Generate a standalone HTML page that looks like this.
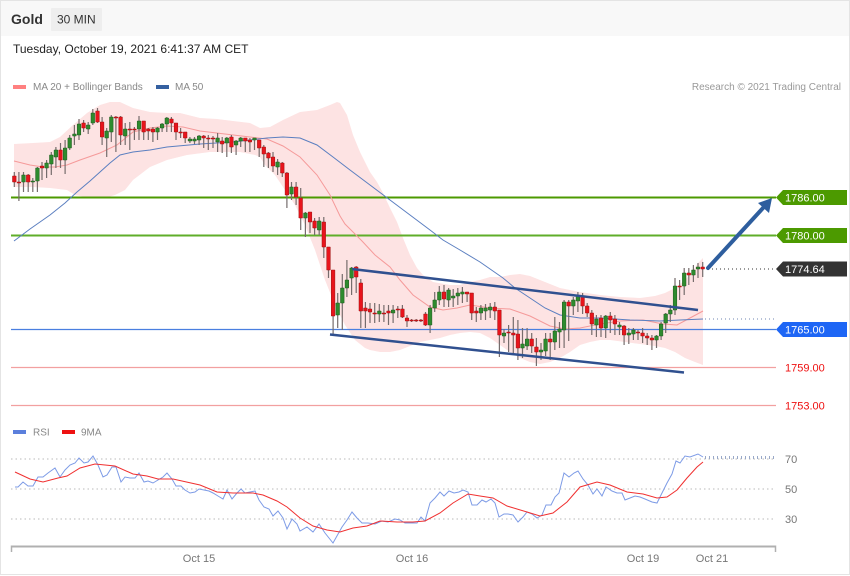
<!DOCTYPE html>
<html><head><meta charset="utf-8"><style>
html,body{margin:0;padding:0;background:#fff;}
svg{display:block;font-family:"Liberation Sans",Arial,sans-serif;}
</style></head><body>
<svg width="850" height="576" viewBox="0 0 850 576" xmlns="http://www.w3.org/2000/svg">
<rect x="0" y="0" width="850" height="576" fill="#fff"/>
<rect x="0" y="0" width="850" height="36" fill="#f8f8f8"/>
<rect x="0.5" y="0.5" width="849" height="574" fill="none" stroke="#e4e4e4"/>
<text x="11" y="24" font-size="14" font-weight="bold" fill="#333">Gold</text>
<rect x="51" y="8" width="51" height="23" fill="#eeeeee" rx="1"/>
<text x="57" y="23.5" font-size="12" fill="#333">30 MIN</text>
<text x="13" y="53" font-size="12" fill="#222">Tuesday, October 19, 2021 6:41:37 AM CET</text>
<rect x="13" y="85" width="13" height="4" fill="#ff8080"/>
<text x="33" y="90" font-size="10" fill="#888">MA 20 + Bollinger Bands</text>
<rect x="156" y="85" width="13" height="4" fill="#3560a0"/>
<text x="175" y="90" font-size="10" fill="#888">MA 50</text>
<text x="841" y="90" font-size="10" fill="#999" text-anchor="end">Research © 2021 Trading Central</text>

<!-- Bollinger band -->
<polygon fill="#fde3e3" points="14,144 33,143 50,142 60,137 73,125 87,113 100,105 110,102 120,102 133,108 150,112 167,113 180,113 200,118 217,119 233,121 250,123 260,128 270,127 283,120 300,112 317,110 330,105 337,102 340,103 347,115 353,135 360,152 370,172 377,182 383,193 390,208 397,222 403,238 410,255 417,268 423,275 433,282 450,285 460,285 470,282 480,280 490,277 500,277 510,275 520,274 530,276 545,282 560,288 580,292 600,295 620,297 640,298 655,296 665,293 675,288 685,280 692,272 698,263 703,258 703,365 695,362 685,358 675,352 665,348 655,346 640,344 625,342 610,340 600,340 590,342 580,345 570,352 560,358 550,362 540,364 530,362 520,358 510,352 500,345 490,338 480,333 470,332 460,333 450,335 440,338 430,340 420,342 410,346 400,350 390,352 380,352 370,350 365,348 355,340 345,325 335,305 325,280 315,250 305,225 295,205 285,190 275,175 265,165 260,157 255,155 240,152 210,152 187,155 167,160 150,167 133,180 125,190 115,195 105,198 90,198 75,195 67,190 50,188 33,187 14,187"/>

<!-- horizontal levels -->
<line x1="11" y1="197.5" x2="776" y2="197.5" stroke="#4c9a00" stroke-width="2"/>
<line x1="11" y1="235.5" x2="776" y2="235.5" stroke="#5fae2a" stroke-width="2"/>
<line x1="11" y1="329.5" x2="776" y2="329.5" stroke="#4a7fe0" stroke-width="1.3"/>
<line x1="11" y1="367.5" x2="776" y2="367.5" stroke="#f2a0a0" stroke-width="1.3"/>
<line x1="11" y1="405.5" x2="776" y2="405.5" stroke="#f2a0a0" stroke-width="1.3"/>
<line x1="708" y1="269" x2="776" y2="269" stroke="#333" stroke-width="1" stroke-dasharray="1 3"/>
<line x1="705" y1="319" x2="776" y2="319" stroke="#6f86b0" stroke-width="1" stroke-dasharray="1 3"/>

<!-- MA lines -->
<polyline fill="none" stroke="#f59a9a" stroke-width="1" points="14,161 30,165 43,167 55,167 67,165 80,160 100,153 117,145 133,132 150,128 167,126 183,127 200,131 225,134 250,137 267,139 283,146 300,157 317,175 330,195 340,216 345,224 355,234 362,241 375,255 390,267 400,280 413,295 430,307 443,310 457,308 470,305 490,308 510,309 530,316 550,326 565,329 580,328 600,324 620,321 643,320 663,324 677,325 690,318 703,311"/>
<polyline fill="none" stroke="#5b7fc0" stroke-width="1" points="14,241 30,229 50,215 65,203 77,192 90,181 100,172 110,163 120,155 133,152 150,150 167,147 200,144 233,142 250,140 267,138 283,137 300,138 317,145 333,157 350,170 370,185 390,200 410,215 430,230 443,240 460,250 480,262 503,278 515,288 530,298 545,308 560,315 580,318 600,318 630,320 660,321 680,320 703,319"/>

<!-- wicks -->
<path fill="none" stroke="#766c6c" stroke-width="1.2" d="M14.3 172V187M18.9 172V201M23.5 172V192M28.2 174V192M32.8 178V192M37.4 167V192M42 162V180M46.6 160V178M51.3 152V175M55.9 147V168M60.5 143V168M65.1 140V174M69.7 135V150M74.4 125V145M79 119V140M83.6 120V132M88.2 122V134M92.8 109V125M97.5 108V123M102.1 117V145M106.7 128V157M111.3 115V142M115.9 116V152M120.6 116V145M125.2 123V145M129.8 122V150M134.4 127V140M139 116V140M143.7 121V140M148.3 128V140M152.9 127V142M157.5 127V140M162.1 123V132M166.8 117V132M171.4 117V132M176 123V140M180.6 128V138M185.2 132V143M189.9 137V143M194.5 137V144M199.1 135V145M203.7 135V148M208.3 135V150M213 136V148M217.6 133V152M222.2 137V153M226.8 137V157M231.4 135V153M236.1 140V155M240.7 137V147M245.3 138V152M249.9 138V152M254.5 138V150M259.2 140V157M263.8 145V167M268.4 152V168M273 152V172M277.6 159V175M282.3 162V177M286.9 172V208M291.5 182V200M296.1 182V205M300.7 188V230M305.4 212V237M310 212V233M314.6 218V235M319.2 217V235M323.8 217V258M328.5 247V278M333.1 270V335M337.7 293V328M342.3 274V330M346.9 260V297M351.6 267V295M356.2 266V293M360.8 279V328M365.4 302V328M370 303V323M374.7 303V323M379.3 304V322M383.9 305V322M388.5 305V325M393.1 305V323M397.8 306V318M402.4 305V318M407 315V327M411.6 319V322M416.2 319V322M420.9 319V322M425.5 312V326M430.1 305V333M434.7 292V312M439.3 286V305M444 285V307M448.6 288V307M453.2 289V307M457.8 288V305M462.4 287V303M467.1 292V302M471.7 293V320M476.3 307V322M480.9 305V320M485.5 304V320M490.2 303V318M494.8 302V320M499.4 310V357M504 329V343M508.6 325V352M513.3 317V353M517.9 320V360M522.5 328V358M527.1 328V350M531.7 333V353M536.4 338V366M541 343V360M545.6 333V356M550.2 333V360M554.8 317V350M559.5 322V348M564.1 300V348M568.7 300V341M573.3 297V315M577.9 292V312M582.6 293V314M587.2 303V317M591.8 310V335M596.4 315V337M601 315V337M605.7 315V338M610.3 312V333M614.9 315V335M619.5 322V335M624.1 325V345M628.8 328V344M633.4 328V340M638 330V340M642.6 328V343M647.2 333V345M651.9 335V350M656.5 335V348M661.1 322V340M665.7 313V333M670.3 305V322M675 278V315M679.6 280V300M684.2 268V295M688.8 268V285M693.4 265V282M698 263V278M702.7 262V277"/>

<!-- green bodies -->
<path fill="#2e8b2e" stroke="#1d5a1d" stroke-width="0.5" d="M21.7 175h3.6v7h-3.6zM31 181h3.6v1h-3.6zM35.6 168h3.6v13h-3.6zM44.8 163h3.6v5h-3.6zM49.5 155h3.6v9h-3.6zM54.1 150h3.6v7h-3.6zM63.3 148h3.6v12h-3.6zM67.9 138h3.6v10h-3.6zM72.6 134h3.6v2h-3.6zM77.2 124h3.6v11h-3.6zM86.4 125h3.6v4h-3.6zM91 113h3.6v10h-3.6zM104.9 131h3.6v7h-3.6zM109.5 117h3.6v15h-3.6zM123.4 129h3.6v7h-3.6zM137.2 121h3.6v8h-3.6zM155.7 128h3.6v4h-3.6zM160.3 124h3.6v4h-3.6zM165 118h3.6v6h-3.6zM188.1 139h3.6v2h-3.6zM192.7 139h3.6v2h-3.6zM197.3 136h3.6v4h-3.6zM215.8 138h3.6v4h-3.6zM225 138h3.6v5h-3.6zM234.3 141h3.6v4h-3.6zM238.9 138h3.6v3h-3.6zM252.7 138h3.6v2h-3.6zM275.8 162h3.6v5h-3.6zM289.7 187h3.6v7h-3.6zM303.6 213h3.6v5h-3.6zM317.4 221h3.6v9h-3.6zM335.9 303h3.6v12h-3.6zM340.5 288h3.6v15h-3.6zM345.1 280h3.6v8h-3.6zM349.8 268h3.6v10h-3.6zM377.5 311h3.6v3h-3.6zM391.3 310h3.6v3h-3.6zM428.3 308h3.6v17h-3.6zM432.9 300h3.6v8h-3.6zM437.5 292h3.6v8h-3.6zM446.8 290h3.6v10h-3.6zM451.4 296h3.6v2h-3.6zM456 293h3.6v3h-3.6zM460.6 292h3.6v2h-3.6zM479.1 308h3.6v5h-3.6zM483.7 308h3.6v3h-3.6zM488.4 307h3.6v3h-3.6zM502.2 333h3.6v3h-3.6zM520.7 344h3.6v4h-3.6zM525.3 339h3.6v7h-3.6zM539.2 350h3.6v2h-3.6zM543.8 339h3.6v12h-3.6zM553 331h3.6v11h-3.6zM557.7 329h3.6v3h-3.6zM562.3 302h3.6v28h-3.6zM571.5 300h3.6v6h-3.6zM576.1 296h3.6v5h-3.6zM594.6 319h3.6v6h-3.6zM603.9 316h3.6v12h-3.6zM617.7 325h3.6v2h-3.6zM627 333h3.6v2h-3.6zM631.6 330h3.6v4h-3.6zM654.7 336h3.6v4h-3.6zM659.3 324h3.6v12h-3.6zM663.9 314h3.6v9h-3.6zM668.5 310h3.6v4h-3.6zM673.2 286h3.6v24h-3.6zM682.4 273h3.6v13h-3.6zM691.6 270h3.6v5h-3.6zM696.2 267h3.6v2h-3.6z"/>

<!-- red bodies -->
<path fill="#e8141c" stroke="#a01010" stroke-width="0.5" d="M12.5 176h3.6v6h-3.6zM17.1 182h3.6v1h-3.6zM26.4 175h3.6v7h-3.6zM40.2 166h3.6v2h-3.6zM58.7 150h3.6v10h-3.6zM81.8 123h3.6v5h-3.6zM95.7 111h3.6v11h-3.6zM100.3 122h3.6v15h-3.6zM114.1 117h3.6v1h-3.6zM118.8 117h3.6v18h-3.6zM128 129h3.6v1h-3.6zM132.6 129h3.6v1h-3.6zM141.9 121h3.6v11h-3.6zM146.5 129h3.6v2h-3.6zM151.1 129h3.6v3h-3.6zM169.6 119h3.6v4h-3.6zM174.2 123h3.6v9h-3.6zM178.8 132h3.6v1h-3.6zM183.4 132h3.6v6h-3.6zM201.9 136h3.6v2h-3.6zM206.5 138h3.6v1h-3.6zM211.2 138h3.6v1h-3.6zM220.4 141h3.6v3h-3.6zM229.6 137h3.6v10h-3.6zM243.5 138h3.6v3h-3.6zM248.1 140h3.6v2h-3.6zM257.4 140h3.6v8h-3.6zM262 147h3.6v7h-3.6zM266.6 153h3.6v5h-3.6zM271.2 157h3.6v9h-3.6zM280.5 163h3.6v10h-3.6zM285.1 173h3.6v22h-3.6zM294.3 187h3.6v10h-3.6zM298.9 198h3.6v20h-3.6zM308.2 212h3.6v10h-3.6zM312.8 221h3.6v7h-3.6zM322 222h3.6v25h-3.6zM326.7 247h3.6v23h-3.6zM331.3 270h3.6v46h-3.6zM354.4 267h3.6v10h-3.6zM359 283h3.6v28h-3.6zM363.6 308h3.6v3h-3.6zM368.2 309h3.6v3h-3.6zM372.9 313h3.6v1h-3.6zM382.1 313h3.6v1h-3.6zM386.7 311h3.6v2h-3.6zM396 309h3.6v1h-3.6zM400.6 309h3.6v8h-3.6zM405.2 318h3.6v3h-3.6zM409.8 320h3.6v1h-3.6zM414.4 320h3.6v1h-3.6zM419.1 320h3.6v1h-3.6zM423.7 314h3.6v11h-3.6zM442.2 292h3.6v7h-3.6zM465.3 292h3.6v2h-3.6zM469.9 293h3.6v20h-3.6zM474.5 311h3.6v2h-3.6zM493 307h3.6v4h-3.6zM497.6 310h3.6v25h-3.6zM506.8 332h3.6v1h-3.6zM511.5 333h3.6v2h-3.6zM516.1 334h3.6v14h-3.6zM529.9 339h3.6v7h-3.6zM534.6 347h3.6v5h-3.6zM548.4 339h3.6v3h-3.6zM566.9 302h3.6v4h-3.6zM580.8 297h3.6v9h-3.6zM585.4 306h3.6v7h-3.6zM590 313h3.6v11h-3.6zM599.2 318h3.6v10h-3.6zM608.5 316h3.6v4h-3.6zM613.1 319h3.6v5h-3.6zM622.3 326h3.6v9h-3.6zM636.2 332h3.6v1h-3.6zM640.8 333h3.6v3h-3.6zM645.4 336h3.6v2h-3.6zM650.1 338h3.6v2h-3.6zM677.8 286h3.6v1h-3.6zM687 273h3.6v2h-3.6zM700.9 267h3.6v2h-3.6z"/>

<!-- channel -->
<line x1="352" y1="269" x2="698" y2="310" stroke="#30508f" stroke-width="2.5"/>
<line x1="330" y1="334.5" x2="684" y2="372.5" stroke="#30508f" stroke-width="2.5"/>

<!-- arrow -->
<line x1="708" y1="268" x2="763" y2="208" stroke="#2e5e9e" stroke-width="4" stroke-linecap="round"/>
<polygon points="772,198 758,203 769,213" fill="#2e5e9e"/>

<!-- tags -->
<polygon points="776,197.5 783,190 847,190 847,205 783,205" fill="#4c9a00"/>
<text x="785" y="201.5" font-size="11" fill="#fff">1786.00</text>
<polygon points="776,235.5 783,228 847,228 847,243 783,243" fill="#4c9a00"/>
<text x="785" y="239.5" font-size="11" fill="#fff">1780.00</text>
<polygon points="776,269 783,261.5 847,261.5 847,276.5 783,276.5" fill="#333"/>
<text x="785" y="273" font-size="11" fill="#fff">1774.64</text>
<polygon points="776,329.5 783,322 847,322 847,337 783,337" fill="#1e66f5"/>
<text x="785" y="333.5" font-size="11" fill="#fff">1765.00</text>
<text x="785" y="371.5" font-size="11" fill="#ee1111">1759.00</text>
<text x="785" y="409.5" font-size="11" fill="#ee1111">1753.00</text>

<!-- RSI panel -->
<rect x="13" y="430" width="13" height="4" fill="#5b7fdc"/>
<text x="33" y="435.5" font-size="10" fill="#888">RSI</text>
<rect x="62" y="430" width="13" height="4" fill="#ee1111"/>
<text x="81" y="435.5" font-size="10" fill="#888">9MA</text>
<line x1="11" y1="459" x2="776" y2="459" stroke="#c8c8c8" stroke-width="1.2" stroke-dasharray="1.5 3"/>
<line x1="11" y1="489" x2="776" y2="489" stroke="#c8c8c8" stroke-width="1.2" stroke-dasharray="1.5 3"/>
<line x1="11" y1="519" x2="776" y2="519" stroke="#c8c8c8" stroke-width="1.2" stroke-dasharray="1.5 3"/>
<line x1="705" y1="457.5" x2="776" y2="457.5" stroke="#98a8c8" stroke-width="3" stroke-dasharray="1 3"/>
<text x="785" y="463" font-size="11" fill="#777">70</text>
<text x="785" y="493" font-size="11" fill="#777">50</text>
<text x="785" y="523" font-size="11" fill="#777">30</text>
<polyline fill="none" stroke="#7d9be6" stroke-width="1" points="15,487 18,487 23,482 28,486 33,486 38,477 43,477 48,473 55,468 60,477 65,470 70,465 75,463 79,458 84,463 88,462 93,456 98,465 103,477 107,475 112,467 116,467 121,482 125,477 130,478 135,478 139,473 144,482 148,481 153,483 158,480 163,477 167,473 172,479 176,486 181,486 185,490 190,493 195,492 199,489 204,490 209,491 213,493 218,496 223,499 227,490 232,499 237,493 241,489 245,493 250,492 255,491 259,500 264,507 269,509 273,516 278,511 283,518 287,529 292,519 297,524 300,531 307,527 313,532 319,524 325,533 333,543 342,527 347,520 352,512 357,518 362,523 368,523 375,524 382,521 388,522 395,519 400,520 405,523 412,523 417,523 421,517 425,521 430,503 435,498 440,492 444,496 449,491 454,493 459,492 463,490 468,492 472,505 477,505 482,500 486,502 491,499 495,503 499,517 504,514 508,514 513,515 518,522 523,517 527,512 532,514 537,518 542,515 546,505 551,505 555,497 559,493 564,473 569,477 574,473 578,471 583,479 588,485 593,494 597,489 602,496 606,487 612,491 617,493 622,493 625,500 630,498 635,496 640,497 645,499 652,502 657,503 662,493 667,483 672,474 676,461 680,463 685,456 690,457 698,454 703,457"/>
<polyline fill="none" stroke="#f03030" stroke-width="1" points="15,472 30,479 43,482 58,478 67,476 80,468 95,464 115,466 133,474 147,476 158,479 173,479 200,485 217,492 233,493 253,493 263,495 277,501 287,507 300,518 313,526 327,530 340,532 353,528 367,526 380,521 397,522 413,522 425,521 440,513 453,503 468,494 480,496 493,498 507,506 527,512 540,516 553,513 567,502 580,487 597,482 610,485 627,492 643,494 657,498 667,497 677,490 687,478 697,467 703,462"/>

<!-- x axis -->
<line x1="11" y1="546.5" x2="776" y2="546.5" stroke="#b0b0b0" stroke-width="2"/>
<line x1="11.5" y1="545.5" x2="11.5" y2="552" stroke="#b0b0b0" stroke-width="1.5"/>
<line x1="775.5" y1="545.5" x2="775.5" y2="552" stroke="#b0b0b0" stroke-width="1.5"/>
<text x="199" y="562" font-size="11" fill="#777" text-anchor="middle">Oct 15</text>
<text x="412" y="562" font-size="11" fill="#777" text-anchor="middle">Oct 16</text>
<text x="643" y="562" font-size="11" fill="#777" text-anchor="middle">Oct 19</text>
<text x="712" y="562" font-size="11" fill="#777" text-anchor="middle">Oct 21</text>
</svg>
</body></html>
